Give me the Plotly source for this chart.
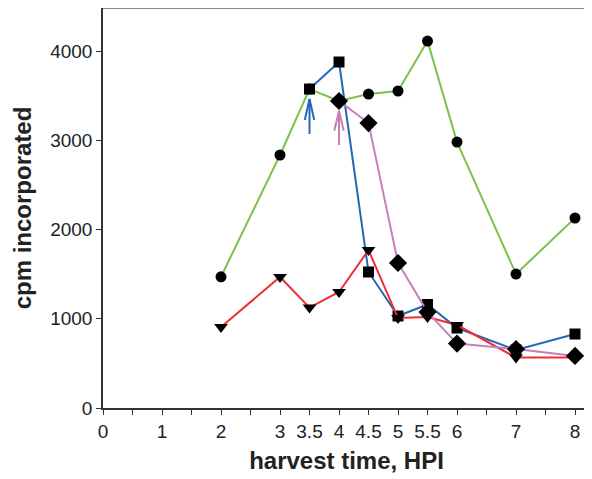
import plotly.graph_objects as go

# Data
green_x = [2, 3, 3.5, 4, 4.5, 5, 5.5, 6, 7, 8]
green_y = [1470, 2835, 3574, 3440, 3518, 3552, 4112, 2980, 1501, 2129]

blue_x = [3.5, 4, 4.5, 5, 5.5, 6, 7, 8]
blue_y = [3574, 3877, 1524, 1031, 1160, 896, 650, 829]

red_x = [2, 3, 3.5, 4, 4.5, 5, 5.5, 6, 7, 8]
red_y = [908, 1468, 1125, 1300, 1770, 1008, 1020, 930, 565, 565]

pink_x = [4, 4.5, 5, 5.5, 6, 7, 8]
pink_y = [3440, 3193, 1625, 1075, 722, 660, 583]

tick_vals = [i * 0.5 for i in range(17)]
tick_labels = ["0", "", "1", "", "2", "", "3", "3.5", "4", "4.5", "5", "5.5", "6", "", "7", "", "8"]
y_ticks = [0, 1000, 2000, 3000, 4000]

GREEN = "#7cc24a"
BLUE = "#2268b4"
RED = "#ee2e37"
PINK = "#c97db9"

fig = go.Figure()

def add(x, y, color, symbol, size):
    fig.add_trace(go.Scatter(
        x=x, y=y, mode="lines+markers",
        line=dict(color=color, width=2),
        marker=dict(color="black", symbol=symbol, size=size),
        showlegend=False, cliponaxis=False))

add(green_x, green_y, GREEN, "circle", 11)
add(blue_x, blue_y, BLUE, "square", 11)
add(red_x, red_y, RED, "triangle-down", 12)
add(pink_x, pink_y, PINK, "diamond", 14)

# arrows (open V heads)
def arrow(x, y0, y1, yh, dx, color):
    fig.add_shape(type="line", x0=x, x1=x, y0=y0, y1=y1, line=dict(color=color, width=2))
    fig.add_shape(type="line", x0=x - dx, x1=x, y0=yh, y1=y1, line=dict(color=color, width=2))
    fig.add_shape(type="line", x0=x + dx, x1=x, y0=yh, y1=y1, line=dict(color=color, width=2))

arrow(3.5, 3070, 3462, 3227, 0.08, BLUE)
arrow(4.0, 2947, 3331, 3107, 0.08, PINK)

# top border line
fig.add_shape(type="line", xref="paper", yref="paper", x0=0, x1=1, y0=1, y1=1,
              line=dict(color="#888888", width=2))

fig.update_layout(
    width=584, height=471,
    margin=dict(l=95, r=2, t=0, b=71, autoexpand=False),
    plot_bgcolor="white", paper_bgcolor="white",
    font=dict(family="Liberation Sans, Arial, sans-serif", size=19, color="#222222"),
    xaxis=dict(
        range=[0, 8.254], tickvals=tick_vals, ticktext=tick_labels,
        ticks="outside", ticklen=5, tickcolor="#333333",
        showline=True, linecolor="#333333", linewidth=1.5,
        showgrid=False, zeroline=False, automargin=False,
        title=dict(text="<b>harvest time, HPI</b>", font=dict(size=24, color="#222222"), standoff=12),
    ),
    yaxis=dict(
        range=[0, 4482], tickvals=y_ticks,
        ticks="outside", ticklen=5, tickcolor="#333333",
        showline=True, linecolor="#333333", linewidth=1.5,
        showgrid=False, zeroline=False, automargin=False,
        title=dict(text="<b>cpm incorporated</b>", font=dict(size=24, color="#222222"), standoff=12),
    ),
)

fig.write_html("out.html")
